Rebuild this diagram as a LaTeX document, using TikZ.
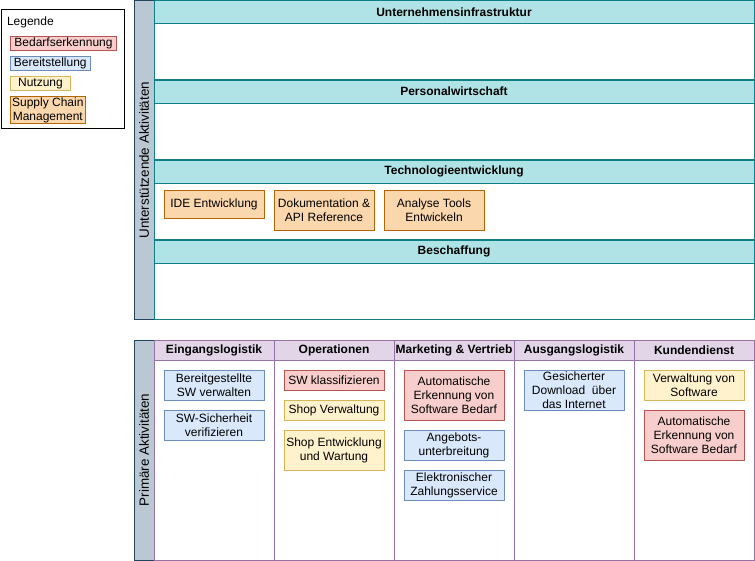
\documentclass[tikz,border=0pt]{standalone}
\usepackage{fontspec}
\setmainfont{Liberation Sans}
\usetikzlibrary{positioning}

\definecolor{tealfill}{HTML}{B0E3E6}
\definecolor{tealline}{HTML}{0E8088}
\definecolor{bandfill}{HTML}{BAC8D3}
\definecolor{bandline}{HTML}{23445D}
\definecolor{lilafill}{HTML}{E1D5E7}
\definecolor{lilaline}{HTML}{9673A6}
\definecolor{redfill}{HTML}{F8CECC}
\definecolor{redline}{HTML}{B85450}
\definecolor{bluefill}{HTML}{DAE8FC}
\definecolor{blueline}{HTML}{6C8EBF}
\definecolor{yelfill}{HTML}{FFF2CC}
\definecolor{yelline}{HTML}{D6B656}
\definecolor{orfill}{HTML}{FAD7AC}
\definecolor{orline}{HTML}{B46504}

\begin{document}
\begin{tikzpicture}[x=1pt,y=-1pt,inner sep=0pt,outer sep=0pt,line width=1pt,
font=\fontsize{12}{14}\selectfont,
band/.style={draw=bandline,fill=bandfill,rectangle,rotate=90,minimum height=20pt,font=\fontsize{13.4}{15}\selectfont},
lane/.style={draw=tealline,fill=white,rectangle,minimum width=600pt,minimum height=80pt},
lanehead/.style={draw=tealline,fill=tealfill,rectangle,minimum width=600pt,minimum height=23pt,font=\fontsize{12}{14}\selectfont\bfseries},
column/.style={draw=lilaline,fill=white,rectangle,minimum width=120pt,minimum height=220pt},
colhead/.style={draw=lilaline,fill=lilafill,rectangle,minimum width=120pt,minimum height=20pt,font=\fontsize{12}{14}\selectfont\bfseries},
actbox/.style={rectangle,align=center,minimum width=100pt},
redbox/.style={actbox,draw=redline,fill=redfill},
bluebox/.style={actbox,draw=blueline,fill=bluefill},
yelbox/.style={actbox,draw=yelline,fill=yelfill},
orbox/.style={actbox,draw=orline,fill=orfill}]

\useasboundingbox (0,0) rectangle (755,561);

% Legende
\draw (62.5,69.5) node[draw,rectangle,minimum width=123pt,minimum height=119pt] (legend) {};
\draw (7,22) node[anchor=west] (legtitle) {Legende};
\draw (63.5,43.5) node[redbox,minimum width=106pt,minimum height=14pt] (legred) {Bedarfserkennung};
\draw (50.3,63.7) node[bluebox,minimum width=80pt,minimum height=14pt] (legblue) {Bereitstellung};
\draw (40.5,83.8) node[yelbox,minimum width=60pt,minimum height=14pt] (legyel) {Nutzung};
\draw (47.8,110.3) node[orbox,minimum width=75pt,minimum height=27pt] (legor) {Supply Chain\\Management};

% unterstuetzende Aktivitaeten
\draw (144,160.25) node[band,minimum width=319.5pt] (supband) {Unterstützende Aktivitäten};
\draw (454,40.25) node[lane,minimum height=79.5pt] (infra) {};
\draw (454,120) node[lane] (personal) {};
\draw (454,200) node[lane] (techno) {};
\draw (454,280) node[lane] (beschaff) {};
\draw (454,12) node[lanehead] (infrahead) {Unternehmensinfrastruktur};
\draw (454,91.7) node[lanehead] (personalhead) {Personalwirtschaft};
\draw (454,171.7) node[lanehead] (technohead) {Technologieentwicklung};
\draw (454,251.7) node[lanehead] (beschaffhead) {Beschaffung};

\draw (214,204.3) node[orbox,minimum height=28pt] (ide) {IDE Entwicklung};
\draw (324,210.3) node[orbox,minimum height=40pt] (doku) {Dokumentation \&\\API Reference};
\draw (434,210.3) node[orbox,minimum height=40pt] (analyse) {Analyse Tools\\Entwickeln};

% primaere Aktivitaeten
\draw (144,450) node[band,minimum width=220pt] (primband) {Primäre Aktivitäten};
\foreach \cx/\nm/\title in {214/eingang/Eingangslogistik,334/oper/Operationen,
  454/market/Marketing \& Vertrieb,574/ausgang/Ausgangslogistik,694/kunde/Kundendienst}{
  \draw (\cx,450) node[column] (\nm) {};
  \draw (\cx,350) node[colhead] (\nm head) {\title};
}

\draw (214,385) node[bluebox,minimum height=30pt] (bereit) {Bereitgestellte\\SW verwalten};
\node[bluebox,minimum height=30pt,below=10pt of bereit] (sicher) {SW-Sicherheit\\verifizieren};

\draw (334,380) node[redbox,minimum height=20pt] (klass) {SW klassifizieren};
\node[yelbox,minimum height=20pt,below=10pt of klass] (shopverw) {Shop Verwaltung};
\node[yelbox,minimum height=40pt,below=10pt of shopverw] (shopentw) {Shop Entwicklung\\und Wartung};

\draw (454,395) node[redbox,minimum height=50pt] (autoerk) {Automatische\\Erkennung von\\Software Bedarf};
\node[bluebox,minimum height=30pt,below=10pt of autoerk] (angebot) {Angebots-\\unterbreitung};
\node[bluebox,minimum height=30pt,below=10pt of angebot] (zahlung) {Elektronischer\\Zahlungsservice};

\draw (574,390) node[bluebox,minimum height=40pt] (download) {Gesicherter\\Download~ über\\das Internet};

\draw (694,385) node[yelbox,minimum height=30pt] (swverw) {Verwaltung von\\Software};
\node[redbox,minimum height=50pt,below=10pt of swverw] (autoerkk) {Automatische\\Erkennung von\\Software Bedarf};
\end{tikzpicture}
\end{document}
